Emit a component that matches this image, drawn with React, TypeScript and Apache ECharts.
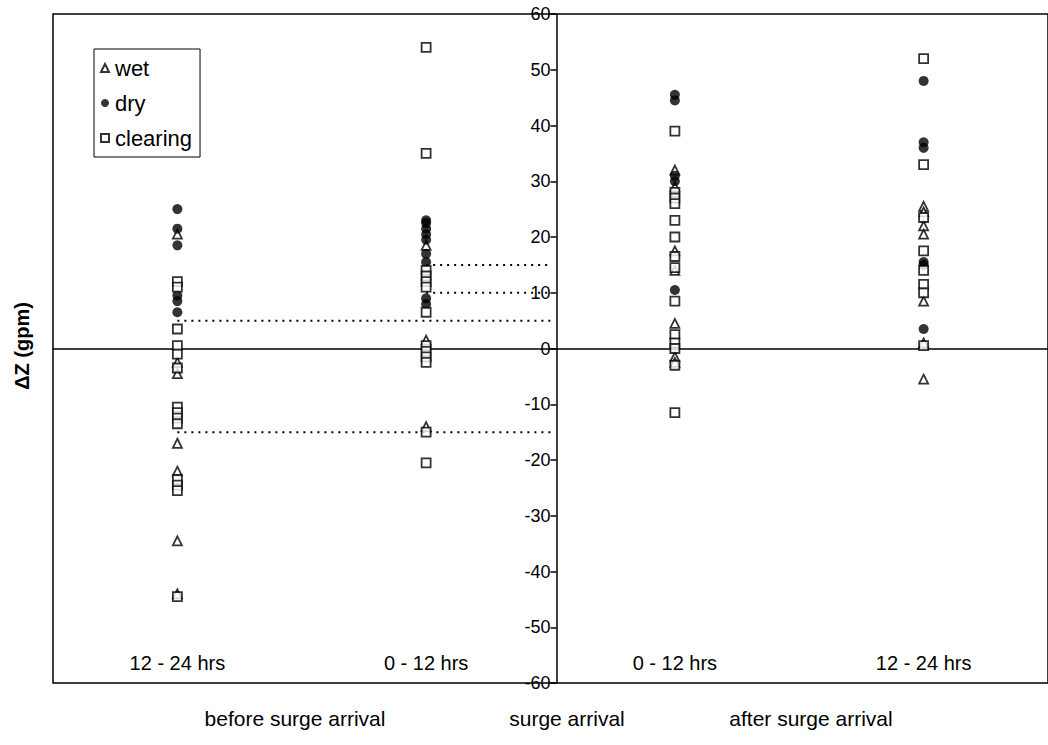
import React, { useEffect, useRef } from "react";
import * as echarts from "echarts";

// Column positions on the hidden x value axis (surge arrival = 0)
const columnPos = [-1.5, -0.5, 0.5, 1.5];
const categories = ["12 - 24 hrs", "0 - 12 hrs", "0 - 12 hrs", "12 - 24 hrs"];
const phaseLabels = ["before surge arrival", "surge arrival", "after surge arrival"];
const yTicks = { min: -60, max: 60, interval: 10 };

// wet (open triangles), per column
const wet = [
  [20.5, -2.5, -4.5, -17, -22, -34.5, -44],
  [18.5, 1.5, -14],
  [32, 29, 17.5, 14, 4.5, -1.5, -2.5],
  [25.5, 24.5, 22, 20.5, 8.5, 1, -5.5],
];
// dry (filled circles)
const dry = [
  [25, 21.5, 18.5, 9.5, 8.5, 6.5],
  [23, 22.5, 21.5, 20.5, 19.5, 17, 15.5, 9, 8],
  [45.5, 44.5, 31, 30, 10.5],
  [48, 37, 36, 15.5, 15, 3.5],
];
// clearing (open squares)
const clearing = [
  [12, 11, 3.5, 0.5, -1, -3.5, -10.5, -11.5, -12.5, -13.5, -23.5, -24.5, -25.5, -44.5],
  [54, 35, 14, 13, 12, 11, 6.5, 0.5, -0.5, -1.5, -2.5, -15, -20.5],
  [39, 28, 27, 26, 23, 20, 16.5, 14.5, 8.5, 2.5, 1, 0, -3, -11.5],
  [52, 33, 23.5, 17.5, 14, 11.5, 10, 0.5],
];

// dotted reference levels: value and column index where they start (ending at surge arrival)
const refLevels = [15, 10, 5, -15];
const refStartColumn = [1, 1, 0, 0];

const FONT = "Liberation Sans, Arial, sans-serif";
const GRID_LEFT = 53;
const GRID_WIDTH = 1007;

function toPoints(cols: number[][]) {
  const out: number[][] = [];
  cols.forEach((vals, ci) => vals.forEach((v) => out.push([columnPos[ci], v])));
  return out;
}

export default function App() {
  const ref = useRef<HTMLDivElement>(null);
  useEffect(() => {
    document.body.style.margin = "0";
    const chart = echarts.init(ref.current!, null, { renderer: "svg" });
    const refSeries = refLevels.map((lv, i) => ({
      type: "line",
      name: "ref" + i,
      xAxisIndex: 0,
      yAxisIndex: 0,
      symbol: "none",
      silent: true,
      z: 1,
      lineStyle: { color: "#000", width: 2, type: [2, 5] },
      data: [
        [columnPos[refStartColumn[i]], lv],
        [0, lv],
      ],
    }));
    chart.setOption({
      animation: false,
      backgroundColor: "#fff",
      grid: { show: true, left: GRID_LEFT, top: 14, width: GRID_WIDTH, height: 669, borderColor: "#000", borderWidth: 1.5, backgroundColor: "transparent" },
      legend: {
        data: ["wet", "dry", "clearing"],
        orient: "vertical",
        left: 94,
        top: 49,
        padding: [8, 8, 8, 6],
        itemGap: 13,
        itemWidth: 8,
        itemHeight: 8,
        borderColor: "#000",
        borderWidth: 1,
        backgroundColor: "#fff",
        textStyle: { fontSize: 22, fontFamily: FONT, color: "#000", padding: [0, 0, 0, 1] },
      },
      xAxis: [
        {
          type: "value",
          min: -2,
          max: 2,
          position: "bottom",
          axisLine: { show: true, onZero: true, lineStyle: { color: "#000", width: 1.5 } },
          axisTick: { show: false },
          axisLabel: { show: false },
          splitLine: { show: false },
        },
        {
          type: "category",
          data: categories,
          position: "bottom",
          boundaryGap: true,
          axisLine: { show: false, onZero: false },
          axisTick: { show: false },
          axisLabel: { inside: true, margin: 10, fontSize: 20, fontFamily: FONT, color: "#000" },
          splitLine: { show: false },
        },
      ],
      yAxis: {
        type: "value",
        position: "left",
        offset: -GRID_WIDTH / 2,
        min: yTicks.min,
        max: yTicks.max,
        interval: yTicks.interval,
        axisLine: { show: true, onZero: false, lineStyle: { color: "#000", width: 1.5 } },
        axisTick: { show: true, length: 6, lineStyle: { color: "#000", width: 1.5 } },
        axisLabel: { fontSize: 18, fontFamily: FONT, color: "#000", margin: 6, showMinLabel: true, showMaxLabel: true },
        splitLine: { show: false },
      },
      graphic: [
        {
          type: "text",
          x: 22,
          y: 346,
          rotation: Math.PI / 2,
          style: { text: "ΔZ (gpm)", font: `bold 20px ${FONT}`, fill: "#000", align: "center", verticalAlign: "middle" },
        },
        ...phaseLabels.map((t, i) => ({
          type: "text",
          x: [295, 567, 811][i],
          y: 718,
          style: { text: t, font: `21px ${FONT}`, fill: "#000", align: "center", verticalAlign: "middle" },
        })),
      ],
      series: [
        ...refSeries,
        {
          type: "scatter",
          name: "wet",
          symbol: "triangle",
          symbolSize: 9,
          z: 3,
          itemStyle: { color: "#fff", borderColor: "#000", borderWidth: 1.8 },
          data: toPoints(wet),
        },
        {
          type: "scatter",
          name: "dry",
          symbol: "circle",
          symbolSize: 10,
          z: 4,
          itemStyle: { color: "#000", borderColor: "#000", borderWidth: 0 },
          data: toPoints(dry),
        },
        {
          type: "scatter",
          name: "clearing",
          symbol: "rect",
          symbolSize: 9,
          z: 5,
          itemStyle: { color: "#fff", borderColor: "#000", borderWidth: 1.8 },
          data: toPoints(clearing),
        },
      ],
    });
    return () => chart.dispose();
  }, []);
  return <div ref={ref} style={{ width: 1048, height: 745 }} />;
}
